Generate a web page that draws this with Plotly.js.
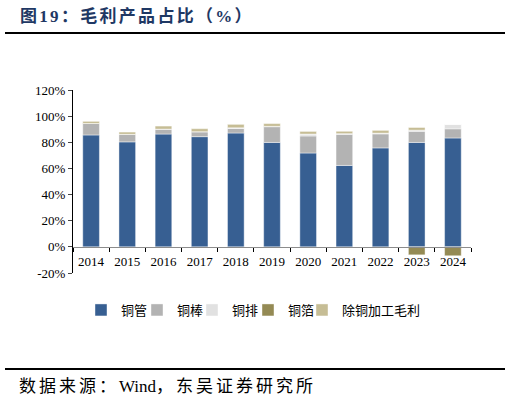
<!DOCTYPE html>
<html>
<head>
<meta charset="utf-8">
<script src="https://cdn.plot.ly/plotly-3.0.1.min.js"></script>
<style>
  html, body { margin: 0; padding: 0; background: #ffffff; }
  #chart { width: 510px; height: 402px; }
</style>
</head>
<body>
<div id="chart"></div>
<script>
// 毛利产品占比 (%)
var years = ["2014", "2015", "2016", "2017", "2018", "2019", "2020", "2021", "2022", "2023", "2024"]
var tube = [85.6, 80.3, 86.3, 84.3, 87.1, 79.9, 71.8, 62.3, 75.7, 79.9, 83.3]
var rod = [8.8, 5.8, 3.8, 3.8, 3.5, 12.0, 13.0, 23.8, 10.7, 8.5, 7.0]
var busbar = [0, 0, 0, 0, 0.5, 0.3, 1.5, 0.5, 0.6, 0.9, 3.3]
var foil = [0, 0, 0, 0, 0, 0, 0, 0, 0, -6.1, -6.8]
var other = [1.6, 1.7, 2.3, 2.3, 2.6, 2.1, 2.0, 1.8, 2.1, 2.0, 0]

var yTicks = [-20, 0, 20, 40, 60, 80, 100, 120]

// plot box in pixels
var L = 73, T = 90, W = 398, H = 183
function px(x) { return (x - L) / W }
function py(y) { return (T + H - y) / H }

var serif = "Liberation Serif, Noto Sans CJK SC, serif"
var edge = { color: "rgba(255,255,255,0.7)", width: 0.6 }

function spaced(s, gap) {
    return '<span style="letter-spacing:' + gap + 'px">' + s + "</span>"
}

function series(name, vals, color, lw) {
    return {
        name: name,
        x: years,
        y: vals,
        type: "bar",
        marker: { color: color, line: edge },
        legendwidth: lw,
        hoverinfo: "x+y+name"
    }
}

var data = [
    series("铜管", tube, "#375f92", 11),
    series("铜棒", rod, "#b3b3b3", 10),
    series("铜排", busbar, "#e1e1e1", 11),
    series("铜箔", foil, "#948a54", 9),
    series("除铜加工毛利", other, "#c6bd95", 80)
]

var layout = {
    width: 510,
    height: 402,
    margin: { l: L, t: T, r: 510 - L - W, b: 402 - T - H, pad: 0 },
    barmode: "relative",
    bargap: 0.54,
    paper_bgcolor: "#ffffff",
    plot_bgcolor: "#ffffff",
    font: { family: serif, size: 13, color: "#000000" },
    showlegend: true,
    legend: {
        orientation: "h",
        x: px(81),
        y: py(310),
        xanchor: "left",
        yanchor: "middle",
        font: { family: serif, size: 13 },
        itemwidth: 30,
        traceorder: "normal"
    },
    xaxis: {
        type: "category",
        anchor: "free",
        position: 20 / 140,
        showline: true,
        linecolor: "#8c8c8c",
        linewidth: 1,
        ticks: "outside",
        tickson: "boundaries",
        ticklen: 4,
        tickcolor: "#000000",
        ticklabelstandoff: 3,
        showgrid: false,
        zeroline: false,
        tickfont: { family: serif, size: 13 }
    },
    yaxis: {
        range: [-20, 120],
        tickvals: yTicks,
        ticktext: yTicks.map(function (v) { return v + "%" }),
        showline: true,
        linecolor: "#000000",
        linewidth: 1,
        ticks: "outside",
        ticklen: 4,
        showgrid: false,
        zeroline: false,
        tickfont: { family: serif, size: 13 }
    },
    shapes: [
        { type: "line", xref: "paper", yref: "paper", x0: px(5), x1: px(505), y0: py(33), y1: py(33),
          line: { color: "#000000", width: 2 } },
        { type: "line", xref: "paper", yref: "paper", x0: px(5), x1: px(505), y0: py(369), y1: py(369),
          line: { color: "#000000", width: 2 } }
    ],
    annotations: [
        { text: "<b>" + spaced("图19：毛利产品占比（%）", 2.3) + "</b>", xref: "paper", yref: "paper",
          x: px(18), y: py(16), xanchor: "left", yanchor: "middle", showarrow: false,
          font: { family: serif, size: 17, color: "#1f3864" } },
        { text: spaced("数据来源：", 3) + "Wind" + spaced("，东吴证券研究所", 3), xref: "paper", yref: "paper",
          x: px(17), y: py(386), xanchor: "left", yanchor: "middle", showarrow: false,
          font: { family: serif, size: 17, color: "#000000" } }
    ]
}

Plotly.newPlot("chart", data, layout, { displayModeBar: false, staticPlot: true })
</script>
</body>
</html>
